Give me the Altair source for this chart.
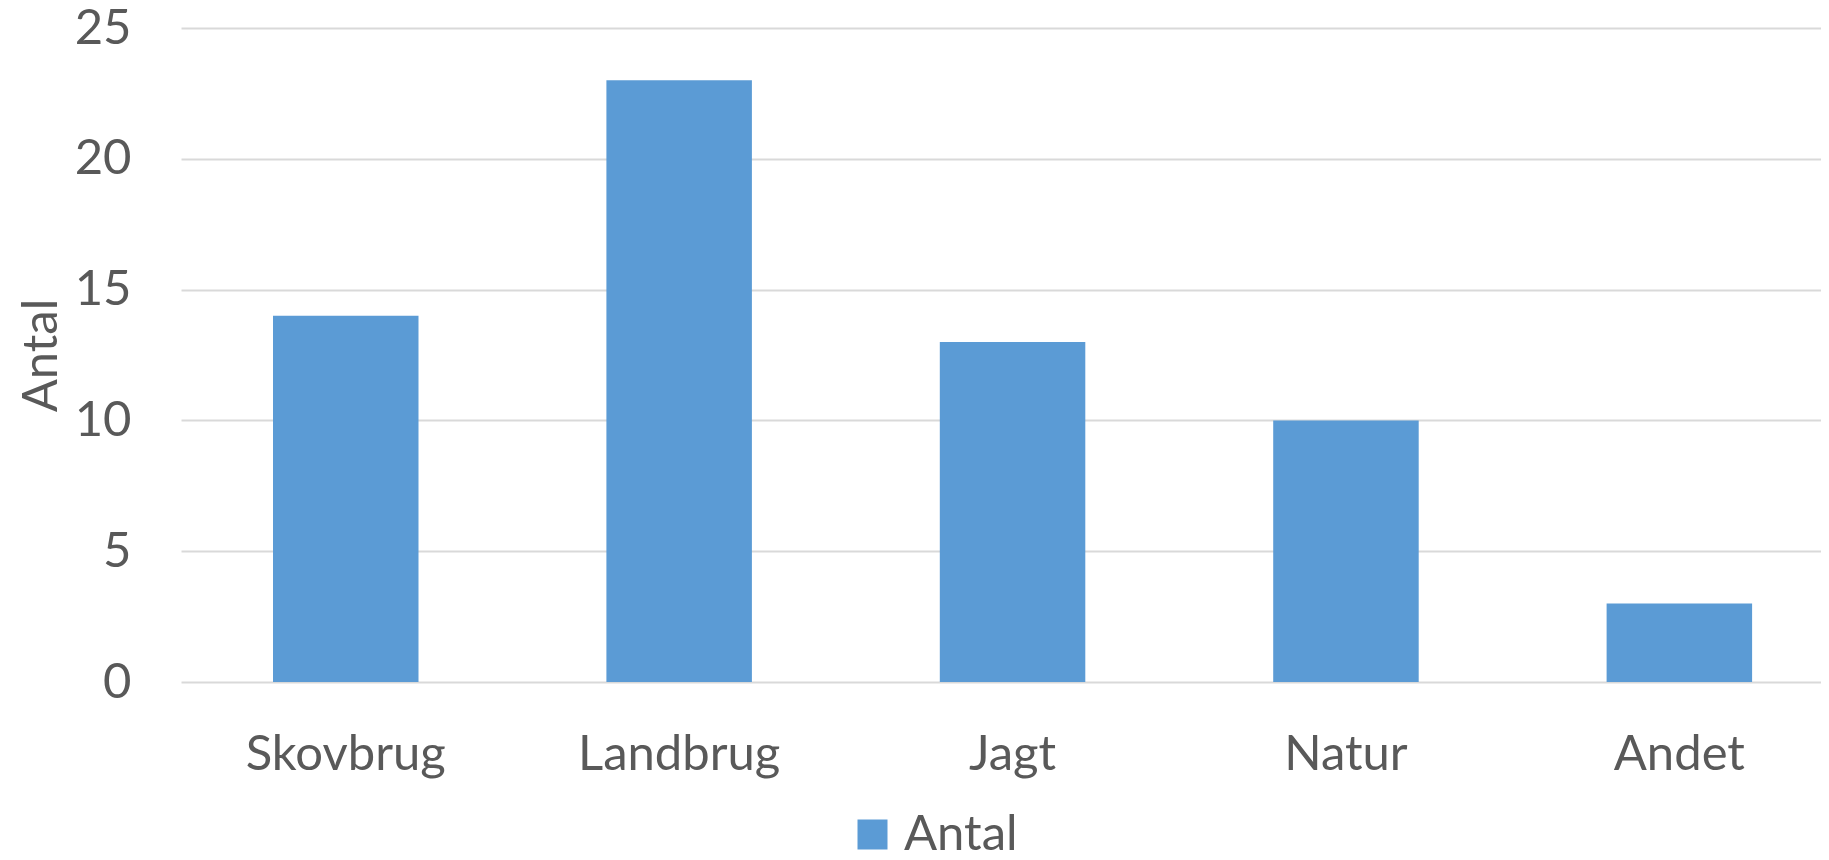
import altair as alt
import pandas as pd

categories = ["Skovbrug", "Landbrug", "Jagt", "Natur", "Andet"]
values = [14, 23, 13, 10, 3]
series = ["Antal"] * len(categories)

df = pd.DataFrame({"kategori": categories, "antal": values, "serie": series})

FONT = "Lato"
TXT = "#595959"

chart = alt.Chart(df).mark_bar(color="#5B9BD5").encode(
    x=alt.X(
        "kategori:N",
        sort=categories,
        scale=alt.Scale(paddingInner=0.5636, paddingOuter=0.2413, align=0.5718),
        axis=alt.Axis(
            title=None, labelAngle=0, labelFontSize=49, labelColor=TXT, labelFont=FONT,
            ticks=False, domain=False, labelPadding=48, grid=False, labelLimit=0,
        ),
    ),
    y=alt.Y(
        "antal:Q",
        scale=alt.Scale(domain=[0, 25], nice=False),
        axis=alt.Axis(
            title="Antal", values=[0, 5, 10, 15, 20, 25], labelFontSize=49, labelColor=TXT,
            labelFont=FONT, ticks=False, domain=False, labelPadding=50,
            gridColor="#D9D9D9", gridWidth=2,
            titleFontSize=49, titleFont=FONT, titleColor=TXT, titleFontWeight="normal",
            titleX=-125, titleY=327, titleAngle=270, titleAlign="center", titleBaseline="alphabetic",
        ),
    ),
    color=alt.Color(
        "serie:N",
        scale=alt.Scale(domain=["Antal"], range=["#5B9BD5"]),
        legend=alt.Legend(
            title=None, orient="none", legendX=667, legendY=782, symbolType="square",
            symbolSize=900, symbolStrokeWidth=0, labelFontSize=49, labelFont=FONT,
            labelColor=TXT, labelOffset=7, padding=0,
        ),
    ),
).properties(
    width=1640, height=654,
    autosize=alt.AutoSizeParams(type="none"),
    padding={"left": 173, "top": 20, "right": 0, "bottom": 170},
).configure_view(stroke=None)

chart.save("out.html", embed_options={"renderer": "svg", "actions": False})
